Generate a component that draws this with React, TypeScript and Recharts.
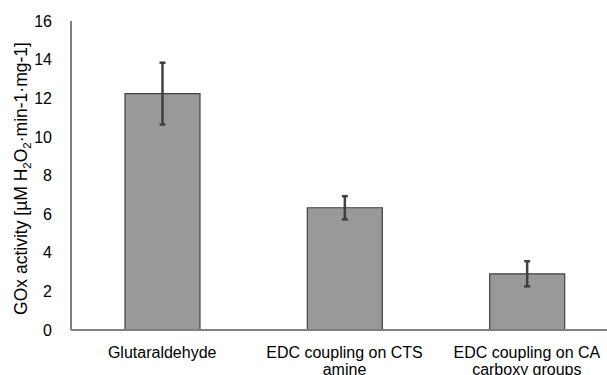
import React from 'react';
import { BarChart, Bar, XAxis, YAxis, ErrorBar } from 'recharts';

const categories = ['Glutaraldehyde', 'EDC coupling on CTS amine', 'EDC coupling on CA carboxy groups'];
const activity = [12.24, 6.33, 2.91];
const activityErr = [1.6, 0.6, 0.65];
const yTicks = [0, 2, 4, 6, 8, 10, 12, 14, 16];

const data = categories.map((name, i) => ({ name, value: activity[i], err: activityErr[i] }));

const FONT = '"Liberation Sans", Arial, sans-serif';

// greedy wrap, roughly like the spreadsheet label wrap
const wrap = (s: string, max: number) => {
  const lines: string[] = [];
  let cur = '';
  s.split(' ').forEach((w) => {
    const next = cur ? cur + ' ' + w : w;
    if (next.length > max && cur) {
      lines.push(cur);
      cur = w;
    } else cur = next;
  });
  if (cur) lines.push(cur);
  return lines;
};

const CategoryTick = ({ x, y, payload }: any) => {
  const lines = wrap(payload.value, 19);
  return (
    <text x={x} y={y} textAnchor="middle" fontFamily={FONT} fontSize={16} fill="#000">
      {lines.map((l, i) => (
        <tspan key={i} x={x} dy={i === 0 ? 20 : 17}>{l}</tspan>
      ))}
    </text>
  );
};

const YLabel = ({ viewBox }: any) => {
  const cx = 27;
  const cy = viewBox.y + viewBox.height / 2 + 3;
  return (
    <text x={cx} y={cy} transform={`rotate(-90, ${cx}, ${cy})`} textAnchor="middle" fontFamily={FONT} fontSize={17.5} fill="#000">
      GOx activity [µM H
      <tspan fontSize={11.5} dy={4}>2</tspan>
      <tspan dy={-4}>O</tspan>
      <tspan fontSize={11.5} dy={4}>2</tspan>
      <tspan dy={-4}>·min-1·mg-1]</tspan>
    </text>
  );
};

export default function App() {
  return (
    <div style={{ position: 'absolute', left: 0, top: 0, width: 607, height: 375, overflow: 'hidden', background: '#fff' }}>
      <BarChart width={620} height={375} data={data} margin={{ top: 21, right: 2, bottom: 0, left: 0 }}>
        <XAxis
          dataKey="name"
          height={45}
          tickLine={false}
          axisLine={{ stroke: '#808080', strokeWidth: 2 }}
          tick={<CategoryTick />}
          interval={0}
        />
        <XAxis xAxisId="top" orientation="top" dataKey="name" height={0} tick={false} tickLine={false} axisLine={{ stroke: '#808080', strokeWidth: 2 }} />
        <YAxis
          width={71}
          domain={[0, 16]}
          ticks={yTicks}
          tickLine={false}
          tickMargin={13}
          axisLine={{ stroke: '#808080', strokeWidth: 2 }}
          tick={{ fontFamily: FONT, fontSize: 16, fill: '#000' }}
          label={{ content: <YLabel /> }}
        />
        <Bar dataKey="value" fill="#999999" stroke="#404040" strokeWidth={1.2} barSize={75} isAnimationActive={false}>
          <ErrorBar dataKey="err" width={3} stroke="#404040" strokeWidth={2.5} isAnimationActive={false} />
        </Bar>
      </BarChart>
    </div>
  );
}
